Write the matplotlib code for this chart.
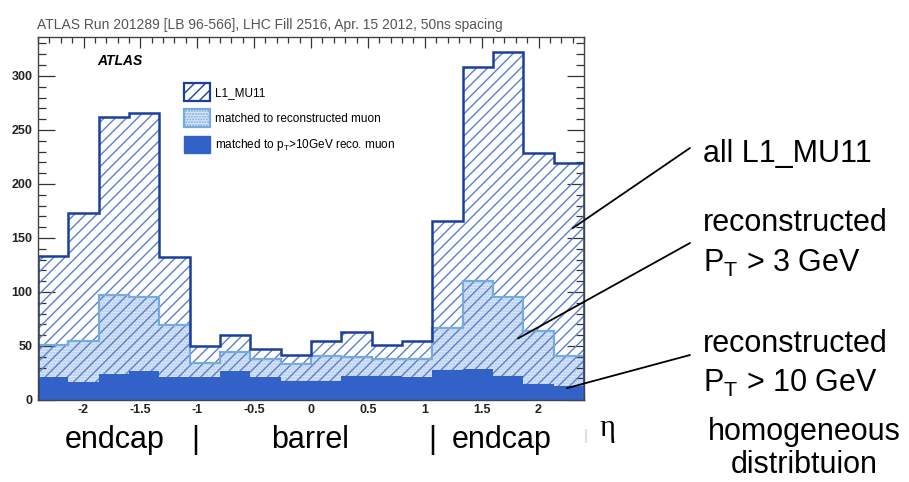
import numpy as np
import matplotlib
matplotlib.use("Agg")
import matplotlib.pyplot as plt
from matplotlib.patches import Patch
from matplotlib.ticker import MultipleLocator, FormatStrFormatter

plt.rcParams['font.family'] = ['Liberation Sans', 'DejaVu Sans']
plt.rcParams['mathtext.fontset'] = 'custom'
plt.rcParams['mathtext.rm'] = 'Liberation Sans'
plt.rcParams['hatch.linewidth'] = 1.0

# eta binning: 18 bins over |eta| < 2.4
eta_edges = np.linspace(-2.4, 2.4, 19)

# L1_MU11 trigger counts per eta bin
l1_mu11 = [133, 173, 262, 266, 132, 50, 60, 47, 42,
           55, 63, 51, 55, 166, 308, 322, 229, 219]
# matched to a reconstructed muon
matched_reco = [51, 55, 97, 95, 69, 34, 44, 38, 33,
                41, 40, 38, 38, 67, 110, 95, 64, 41]
# matched to a pT > 10 GeV reconstructed muon
matched_pt10 = [21, 17, 24, 27, 21, 21, 27, 21, 18,
                18, 22, 22, 21, 28, 29, 22, 15, 13]

c_l1 = '#1c3f9f'
c_l1_hatch = '#5a80cf'
c_reco = '#77aadd'
c_reco_fill = '#dbe7f7'
c_pt10 = '#3262c8'

fig = plt.figure(figsize=(9.09, 4.82), dpi=100)
ax = fig.add_axes([38 / 909, 1 - 400 / 482, 546 / 909, 363 / 482])

# filled areas first, outlines on top
ax.stairs(matched_reco, eta_edges, fill=True, facecolor=c_reco_fill,
          edgecolor='#a9c6ec', hatch='......', linewidth=0, zorder=1)
ax.stairs(l1_mu11, eta_edges, fill=True, facecolor='none',
          edgecolor=c_l1_hatch, hatch='///', linewidth=0, zorder=2)
ax.stairs(matched_pt10, eta_edges, fill=True, facecolor=c_pt10,
          edgecolor=c_pt10, linewidth=0, zorder=3)
ax.stairs(matched_reco, eta_edges, color=c_reco, linewidth=1.6, zorder=4)
ax.stairs(l1_mu11, eta_edges, color=c_l1, linewidth=1.8, zorder=5)

ax.set_xlim(-2.4, 2.4)
ax.set_ylim(0, 336)

ax.xaxis.set_major_locator(MultipleLocator(0.5))
ax.xaxis.set_minor_locator(MultipleLocator(0.1))
ax.xaxis.set_major_formatter(FormatStrFormatter('%g'))
ax.yaxis.set_major_locator(MultipleLocator(50))
ax.yaxis.set_minor_locator(MultipleLocator(10))
ax.tick_params(which='both', direction='in', top=True, right=True,
               color='#333333', width=0.9)
ax.tick_params(axis='x', which='major', length=8, pad=3)
ax.tick_params(axis='x', which='minor', length=4.5)
ax.tick_params(axis='y', which='major', length=12, pad=4)
ax.tick_params(axis='y', which='minor', length=6)
for lab in ax.get_xticklabels() + ax.get_yticklabels():
    lab.set_fontweight('bold')
    lab.set_fontsize(9)
    lab.set_color('#222222')
for sp in ax.spines.values():
    sp.set_color('#444444')
    sp.set_linewidth(1.0)
    sp.set_zorder(6)

ax.text(0.108, 0.935, 'ATLAS', transform=ax.transAxes, fontsize=10,
        fontweight='bold', fontstyle='italic', va='center')

handles = [
    Patch(facecolor='white', edgecolor=c_l1, hatch='///', linewidth=1.6),
    Patch(facecolor=c_reco_fill, edgecolor=c_reco, hatch='......', linewidth=1.6),
    Patch(facecolor=c_pt10, edgecolor=c_pt10, linewidth=1.0),
]
labels = ['L1_MU11', 'matched to reconstructed muon',
          r'matched to p$_\mathregular{T}$>10GeV reco. muon']
ax.legend(handles, labels, loc='upper left', bbox_to_anchor=(0.267, 0.873),
          frameon=False, fontsize=8.5, borderpad=0, borderaxespad=0,
          handlelength=2.2, handleheight=1.9, labelspacing=0.75,
          handletextpad=0.45)

fig.text(37 / 909, 1 - 25 / 482,
         'ATLAS Run 201289 [LB 96-566], LHC Fill 2516, Apr. 15 2012, 50ns spacing',
         fontsize=10, color='#555555', va='center')

# region labels under the axis
fs = 22
fig.text(65 / 909, 1 - 448 / 482, 'endcap', fontsize=fs, va='baseline')
fig.text(195 / 909, 1 - 448 / 482, '|', fontsize=fs, va='baseline', ha='center')
fig.text(310 / 909, 1 - 448 / 482, 'barrel', fontsize=fs, va='baseline', ha='center')
fig.text(432 / 909, 1 - 448 / 482, '|', fontsize=fs, va='baseline', ha='center')
fig.text(452 / 909, 1 - 448 / 482, 'endcap', fontsize=fs, va='baseline')
fig.text(586 / 909, 1 - 440 / 482, '|', fontsize=11, va='baseline',
         ha='center', color='#cccccc')
fig.text(599 / 909, 1 - 436 / 482, 'η', fontsize=fs,
         family=['Liberation Serif', 'DejaVu Serif'], va='baseline')

# annotations on the right
tx = 703 / 909
fig.text(tx, 1 - 161.7 / 482, 'all L1_MU11', fontsize=fs, va='baseline')
fig.text(tx, 1 - 231 / 482, 'reconstructed', fontsize=fs, va='baseline')
fig.text(tx, 1 - 271.7 / 482, r'P$_\mathregular{T}$ > 3 GeV', fontsize=fs, va='baseline')
fig.text(tx, 1 - 351.7 / 482, 'reconstructed', fontsize=fs, va='baseline')
fig.text(tx, 1 - 391.7 / 482, r'P$_\mathregular{T}$ > 10 GeV', fontsize=fs, va='baseline')
fig.text(804 / 909, 1 - 440 / 482, 'homogeneous', fontsize=fs, va='baseline', ha='center')
fig.text(804 / 909, 1 - 473.3 / 482, 'distribtuion', fontsize=fs, va='baseline', ha='center')

# pointer lines from the labels into the histogram
pointers = [((2.30, 159), (690, 148)),
            ((1.82, 57), (690, 243)),
            ((2.25, 11), (690, 355))]
for (px, py), (fx, fy) in pointers:
    ax.annotate('', xy=(px, py), xycoords='data',
                xytext=(fx / 909, 1 - fy / 482), textcoords='figure fraction',
                arrowprops=dict(arrowstyle='-', color='black', lw=1.3,
                                shrinkA=0, shrinkB=0),
                annotation_clip=False, zorder=7)

fig.savefig('out.png', dpi=100)
